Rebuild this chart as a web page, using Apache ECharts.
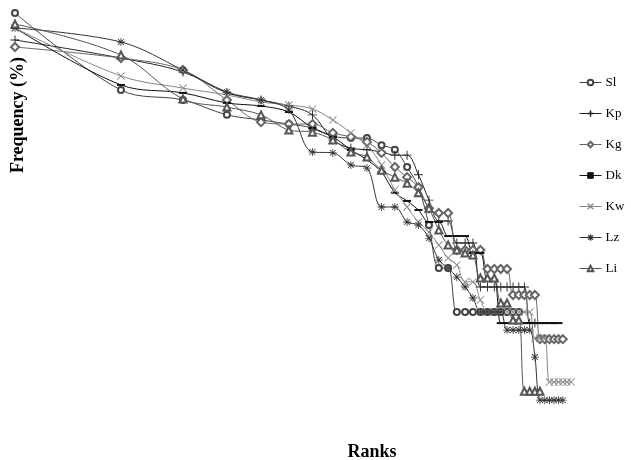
<!DOCTYPE html>
<html>
<head>
<meta charset="utf-8">
<script src="https://cdn.jsdelivr.net/npm/echarts@6/dist/echarts.min.js"></script>
<style>html,body{margin:0;padding:0;background:#fff;}#c{width:631px;height:460px;}</style>
</head>
<body>
<div id="c"></div>
<script>
// Frequency (%) by rank (rank = index + 1) (log-log plot)
const seriesNames = ['Sl', 'Kp', 'Kg', 'Dk', 'Kw', 'Lz', 'Li'];
const Sl = [9.66,3.98,3.55,2.99,2.82,2.69,2.57,2.34,2.29,2.29,2.11,2.00,1.64,1.30,0.841,0.513,0.513,0.309,0.309,0.309,0.309,0.309,0.309,0.309,0.309,0.309,0.309];
const Kp = [7.08,5.75,4.90,3.85,3.55,3.31,2.99,2.24,2.04,2.00,1.95,1.88,1.88,1.50,1.12,0.881,0.881,0.684,0.684,0.684,0.412,0.412,0.412,0.412,0.412,0.412,0.412,0.412,0.272,0.272];
const Kg = [6.53,5.75,5.01,3.55,2.75,2.69,2.69,2.43,2.32,2.19,1.93,1.64,1.46,1.30,1.02,0.966,0.966,0.631,0.631,0.631,0.631,0.507,0.507,0.507,0.507,0.376,0.376,0.376,0.376,0.376,0.226,0.226,0.226,0.226,0.226,0.226];
const Dk = [8.13,4.22,3.85,3.43,3.31,3.09,2.57,2.32,2.00,1.78,1.55,1.22,1.11,1.00,0.871,0.871,0.741,0.741,0.741,0.610,0.610,0.447,0.447,0.272,0.272,0.272,0.272,0.272,0.272,0.272,0.272,0.272,0.272,0.272,0.272];
const Kw = [8.13,4.68,4.07,3.76,3.47,3.35,3.20,2.82,2.43,2.11,1.68,1.26,1.035,0.871,0.776,0.668,0.575,0.531,0.437,0.437,0.355,0.309,0.309,0.309,0.309,0.309,0.309,0.309,0.309,0.229,0.229,0.229,0.138,0.138,0.138,0.138,0.138,0.138];
const Lz = [8.13,6.92,5.01,3.89,3.55,3.16,1.95,1.93,1.68,1.62,1.035,1.035,0.871,0.841,0.724,0.562,0.513,0.462,0.412,0.363,0.309,0.309,0.309,0.309,0.251,0.251,0.251,0.251,0.251,0.184,0.112,0.112,0.112,0.112,0.112,0.112];
const Li = [8.51,5.96,3.59,3.27,2.99,2.51,2.45,2.24,1.95,1.84,1.58,1.46,1.36,1.22,1.02,0.794,0.668,0.631,0.610,0.596,0.457,0.457,0.457,0.343,0.343,0.282,0.282,0.124,0.124,0.124,0.124];
const xTitle = 'Ranks';
const yTitle = 'Frequency (%)';

const values = [Sl, Kp, Kg, Dk, Kw, Lz, Li];
const PLUS = 'path://M0,4.5h10v1h-10z M4.5,0h1v10h-1z';
const CROSS = 'path://M0,0.8L0.8,0L10,9.2L9.2,10Z M9.2,0L10,0.8L0.8,10L0,9.2Z';
const STAR = 'path://M0,4.5h10v1h-10z M4.5,0h1v10h-1z M1,1.7L1.7,1L9,8.3L8.3,9Z M8.3,1L9,1.7L1.7,9L1,8.3Z';
const styles = [
  {symbol: 'emptyCircle', size: 6, color: '#444', bw: 0.8},
  {symbol: PLUS, size: 9, color: '#222', bw: 0},
  {symbol: 'emptyDiamond', size: 8, color: '#666', bw: 0.8},
  {symbol: 'rect', size: [8, 2], color: '#111', bw: 0},
  {symbol: CROSS, size: 8, color: '#888', bw: 0},
  {symbol: STAR, size: 8, color: '#333', bw: 0},
  {symbol: 'emptyTriangle', size: 7, color: '#555', bw: 0.8}
];

const chart = echarts.init(document.getElementById('c'), null, {renderer: 'canvas'});
chart.setOption({
  animation: false,
  backgroundColor: '#fff',
  grid: {left: 15, right: 18, top: 10, bottom: 50},
  xAxis: {type: 'log', logBase: 10, min: 1, max: 50, show: false},
  yAxis: {type: 'log', logBase: 10, min: 0.1, max: 10, show: false},
  legend: {
    orient: 'vertical', left: 574, top: 71,
    itemWidth: 22, itemHeight: 7, itemGap: 18,
    lineStyle: {width: 1},
    itemStyle: {borderWidth: 1},
    textStyle: {fontFamily: 'Liberation Serif', fontSize: 13, color: '#000', padding: [0, 0, 0, -1]},
    data: seriesNames
  },
  graphic: [
    {type: 'text', x: 18, y: 115, rotation: Math.PI / 2,
     style: {text: yTitle, font: 'bold 18px "Liberation Serif"', fill: '#000', align: 'center', verticalAlign: 'middle'}},
    {type: 'text', x: 372, y: 452,
     style: {text: xTitle, font: 'bold 18px "Liberation Serif"', fill: '#000', align: 'center', verticalAlign: 'middle'}}
  ],
  series: seriesNames.map((name, k) => ({
    name: name,
    type: 'line',
    smooth: 0.35,
    data: values[k].map((v, i) => [i + 1, v]),
    symbol: styles[k].symbol,
    symbolSize: styles[k].size,
    showAllSymbol: true,
    lineStyle: {color: styles[k].color, width: 1},
    itemStyle: {color: styles[k].color, borderColor: styles[k].color, borderWidth: styles[k].bw}
  }))
});
</script>
</body>
</html>
